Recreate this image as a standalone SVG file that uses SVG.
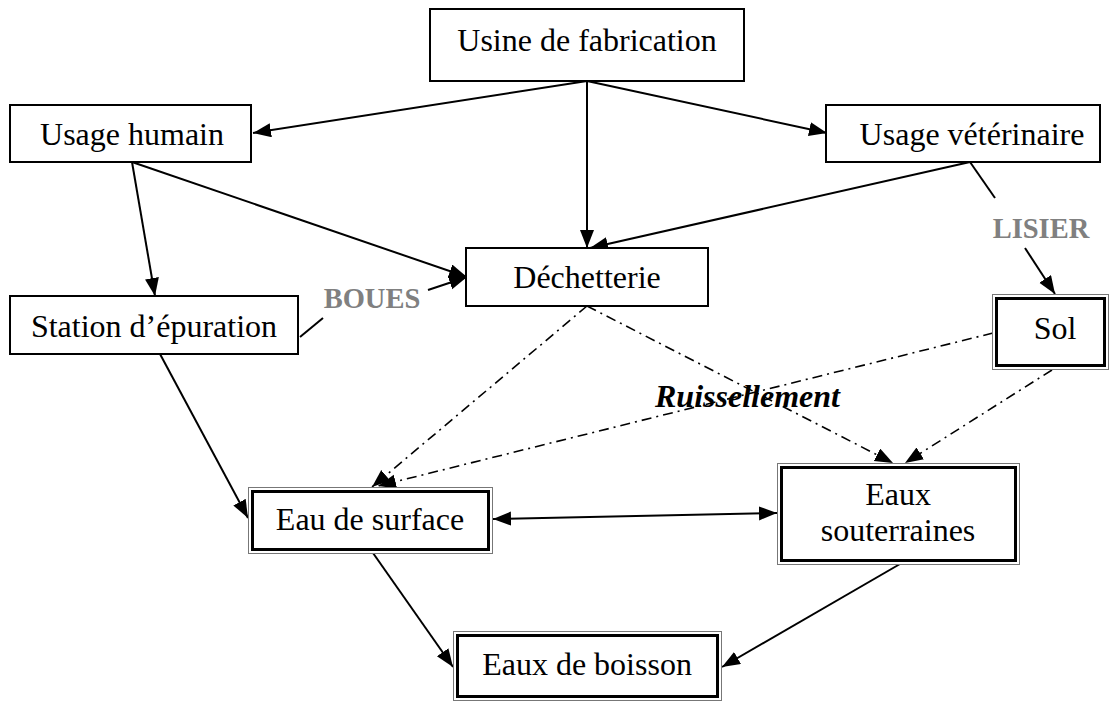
<svg xmlns="http://www.w3.org/2000/svg" width="1111" height="704" viewBox="0 0 1111 704">
<defs>
<marker id="arr" markerUnits="userSpaceOnUse" markerWidth="20" markerHeight="16" refX="18" refY="7" orient="auto-start-reverse">
<path d="M0,0 L18,7 L0,14 z" fill="#000"/>
</marker>
<style>
.box{fill:#fff;stroke:#000;stroke-width:2}
.outer{fill:#fff;stroke:#777;stroke-width:1}
.inner{fill:none;stroke:#000;stroke-width:3}
.t{font-family:"Liberation Serif","Times New Roman",serif;font-size:32px;fill:#000;text-anchor:middle}
.lbl{font-family:"Liberation Serif","Times New Roman",serif;font-size:28.5px;font-weight:bold;fill:#808080;text-anchor:middle}
.ru{font-family:"Liberation Serif","Times New Roman",serif;font-size:32px;font-weight:bold;font-style:italic;fill:#000}
.c{stroke:#000;stroke-width:2;fill:none}
.a{marker-end:url(#arr)}
.dd{stroke:#000;stroke-width:1.6;fill:none;stroke-dasharray:10 5 2 5}
</style>
</defs>
<rect width="1111" height="704" fill="#fff"/>
<g id="connectors">
<line class="c a" x1="587" y1="81" x2="253" y2="133"/>
<line class="c a" x1="587" y1="81" x2="827" y2="133"/>
<line class="c a" x1="587" y1="81" x2="587" y2="248"/>
<line class="c a" x1="970" y1="162" x2="590" y2="248"/>
<line class="c a" x1="132" y1="162" x2="467" y2="277"/>
<line class="c a" x1="132" y1="162" x2="155" y2="296"/>
<line class="c" x1="300" y1="337" x2="323" y2="318"/>
<line class="c a" x1="428" y1="290" x2="467" y2="277"/>
<line class="c" x1="970" y1="162" x2="995" y2="198"/>
<line class="c a" x1="1025" y1="248" x2="1055" y2="294"/>
<line class="dd a" x1="587" y1="306" x2="372" y2="487"/>
<line class="dd a" x1="993" y1="333" x2="378" y2="486"/>
<line class="dd a" x1="587" y1="306" x2="893" y2="463"/>
<line class="dd a" x1="1052" y1="370" x2="905" y2="463"/>
<line class="c a" x1="160" y1="354" x2="248" y2="518"/>
<line class="c a" style="marker-start:url(#arr)" x1="493" y1="519" x2="777" y2="513"/>
<line class="c a" x1="373" y1="553" x2="453" y2="667"/>
<line class="c a" x1="900" y1="564" x2="722" y2="667"/>
<text class="lbl" x="372" y="308">BOUES</text>
<text class="lbl" x="1041" y="238">LISIER</text>
<text class="ru" x="655" y="407">Ruissellement</text>
</g>
<g id="usine">
<rect class="box" x="430" y="9" width="314" height="72"/>
<text class="t" x="587" y="51">Usine de fabrication</text>
</g>
<g id="usage-humain">
<rect class="box" x="10" y="105" width="241" height="57"/>
<text class="t" x="132" y="145">Usage humain</text>
</g>
<g id="usage-veterinaire">
<rect class="box" x="826" y="105" width="274" height="57"/>
<text class="t" x="972" y="145">Usage vétérinaire</text>
</g>
<g id="station">
<rect class="box" x="10" y="296" width="288" height="58"/>
<text class="t" x="154" y="337">Station d’épuration</text>
</g>
<g id="dechetterie">
<rect class="box" x="466" y="248" width="242" height="58"/>
<text class="t" x="587" y="288">Déchetterie</text>
</g>
<g id="sol">
<rect class="outer" x="992.5" y="294.5" width="116" height="75"/>
<rect class="inner" x="996.5" y="298.5" width="108" height="67"/>
<text class="t" x="1055" y="339">Sol</text>
</g>
<g id="eau-surface">
<rect class="outer" x="248.5" y="487.5" width="244" height="66"/>
<rect class="inner" x="252.5" y="491.5" width="236" height="58"/>
<text class="t" x="370" y="530">Eau de surface</text>
</g>
<g id="eaux-souterraines">
<rect class="outer" x="777.5" y="463.5" width="242" height="101"/>
<rect class="inner" x="781.5" y="467.5" width="234" height="93"/>
<text class="t" x="898" y="505">Eaux</text>
<text class="t" x="898" y="541">souterraines</text>
</g>
<g id="eaux-boisson">
<rect class="outer" x="453.5" y="631.5" width="268" height="69"/>
<rect class="inner" x="457.5" y="635.5" width="260" height="61"/>
<text class="t" x="587" y="675">Eaux de boisson</text>
</g>
</svg>
